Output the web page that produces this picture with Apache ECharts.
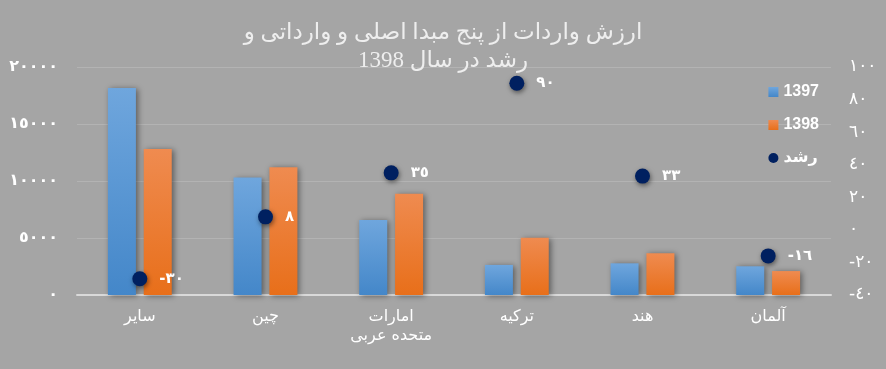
<!DOCTYPE html>
<html><head><meta charset="utf-8">
<script src="https://cdn.jsdelivr.net/npm/echarts@6/dist/echarts.min.js"></script>
<style>html,body{margin:0;padding:0;background:#a5a5a5;}#c{width:886px;height:369px;}</style>
</head><body><div id="c"></div>
<script>
const categories = ['سایر', 'چین', 'امارات\nمتحده عربی', 'ترکیه', 'هند', 'آلمان'];
const imports1397 = [18150, 10300, 6580, 2640, 2780, 2520];
const imports1398 = [12800, 11200, 8880, 5030, 3660, 2100];
const growth = [-30, 8, 35, 90, 33, -16];
const growthLabels = ['-٣٠', '٨', '٣٥', '٩٠', '٣٣', '-١٦'];
const leftTickValues = [0, 5000, 10000, 15000, 20000];
const leftTickLabels = ['٠', '٥٠٠٠', '١٠٠٠٠', '١٥٠٠٠', '٢٠٠٠٠'];
const rightTickValues = [-40, -20, 0, 20, 40, 60, 80, 100];
const rightTickLabels = ['-٤٠', '-٢٠', '٠', '٢٠', '٤٠', '٦٠', '٨٠', '١٠٠'];
const seriesNames = ['1397', '1398', 'رشد'];
const titleText = 'ارزش واردات از پنج مبدا اصلی و وارداتی و\nرشد در سال 1398';

const chart = echarts.init(document.getElementById('c'));
const fontFam = 'DejaVu Sans, sans-serif';
function lbl(vals, labs){ return v => { const i = vals.indexOf(v); return i >= 0 ? labs[i] : ''; }; }
const blueGrad = new echarts.graphic.LinearGradient(0,0,0,1,[{offset:0,color:'#6fa6dd'},{offset:1,color:'#4487c9'}]);
const orangeGrad = new echarts.graphic.LinearGradient(0,0,0,1,[{offset:0,color:'#ef8b50'},{offset:1,color:'#e86f1a'}]);
chart.setOption({
  backgroundColor: '#a5a5a5',
  animation: false,
  title: {
    text: titleText, left: 'center', top: 14,
    textStyle: {color: '#eeeeee', fontSize: 23, fontWeight: 'normal', fontFamily: 'Liberation Serif, DejaVu Sans, serif', lineHeight: 28}
  },
  legend: {
    orient: 'vertical', right: 62, top: 79, itemGap: 17, itemWidth: 10, itemHeight: 10,
    data: [{name: seriesNames[0], icon: 'rect'}, {name: seriesNames[1], icon: 'rect'}, {name: seriesNames[2], icon: 'circle'}],
    textStyle: {color: '#ffffff', fontSize: 16, fontWeight: 'bold', fontFamily: 'Liberation Sans, DejaVu Sans, sans-serif'}
  },
  grid: {left: 77, right: 55, top: 67, bottom: 74},
  xAxis: {
    type: 'category', data: categories,
    axisLine: {lineStyle: {color: '#d9d9d9', width: 2}},
    axisTick: {show: false},
    axisLabel: {color: '#ffffff', fontSize: 16, fontFamily: fontFam, margin: 12, lineHeight: 19}
  },
  yAxis: [{
    type: 'value', min: 0, max: 20000, interval: 5000,
    axisLine: {show: false}, axisTick: {show: false},
    splitLine: {lineStyle: {color: '#b3b3b3', width: 1}},
    axisLabel: {color: '#ffffff', fontSize: 16, fontWeight: 'bold', fontFamily: fontFam, margin: 19, formatter: lbl(leftTickValues, leftTickLabels)}
  }, {
    type: 'value', min: -40, max: 100, interval: 20,
    axisLine: {show: false}, axisTick: {show: false}, splitLine: {show: false},
    axisLabel: {color: '#ffffff', fontSize: 17, fontFamily: fontFam, margin: 18, formatter: lbl(rightTickValues, rightTickLabels)}
  }],
  series: [{
    name: seriesNames[0], type: 'bar', data: imports1397, barWidth: 28, barGap: '28%',
    itemStyle: {color: blueGrad, shadowColor: 'rgba(0,0,0,0.45)', shadowBlur: 6, shadowOffsetX: 2, shadowOffsetY: 1}
  }, {
    name: seriesNames[1], type: 'bar', data: imports1398, barWidth: 28,
    itemStyle: {color: orangeGrad, shadowColor: 'rgba(0,0,0,0.45)', shadowBlur: 6, shadowOffsetX: 2, shadowOffsetY: 1}
  }, {
    name: seriesNames[2], type: 'scatter', yAxisIndex: 1, data: growth, symbolSize: 15,
    itemStyle: {color: '#002060', opacity: 1, shadowColor: 'rgba(0,0,0,0.5)', shadowBlur: 5, shadowOffsetX: 1, shadowOffsetY: 2},
    label: {show: true, position: 'right', distance: 12, color: '#ffffff', fontSize: 15, fontWeight: 'bold', fontFamily: fontFam,
      formatter: p => growthLabels[p.dataIndex]}
  }]
});
</script></body></html>
